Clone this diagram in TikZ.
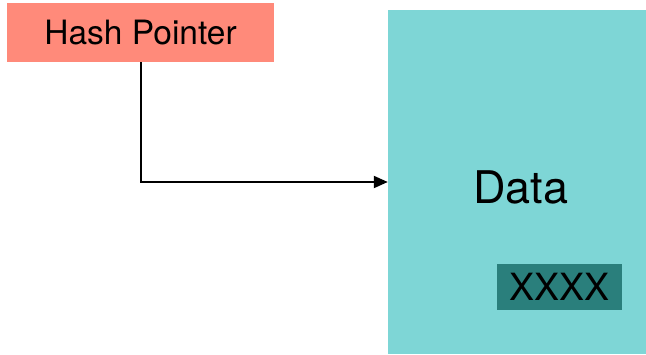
\documentclass[tikz,border=0pt]{standalone}
\usepackage{fontspec}
\setmainfont{TeX Gyre Heros}
\usetikzlibrary{arrows.meta}
\definecolor{hashred}{HTML}{FF8A7A}
\definecolor{datateal}{HTML}{7ED6D6}
\definecolor{darkteal}{HTML}{2A7F7C}
\tikzset{box/.style={rectangle, inner sep=0pt, draw=none}}
\begin{document}
\begin{tikzpicture}[x=1pt, y=-1pt]
    %\draw[help lines] (0,0) grid (646,354);
    \useasboundingbox (0,0) rectangle (646,354);
    \node[box, fill=hashred, minimum width=267pt, minimum height=59pt,
          font=\fontsize{33.5}{36}\selectfont] (hash) at (140.5,32.5) {Hash Pointer};
    \node[box, fill=datateal, minimum width=258pt, minimum height=344pt] (data) at (517,182) {};
    \node[font=\fontsize{45}{48}\selectfont] (datalbl) at (521,187) {Data};
    \node[box, fill=darkteal, minimum width=125pt, minimum height=46pt,
          font=\fontsize{37.5}{40}\selectfont] (xxxx) at (559.5,287) {XXXX};
    \draw[line width=2pt, -{Triangle[length=14pt, width=12pt]}] (hash.south) |- (data.west);
\end{tikzpicture}
\end{document}
